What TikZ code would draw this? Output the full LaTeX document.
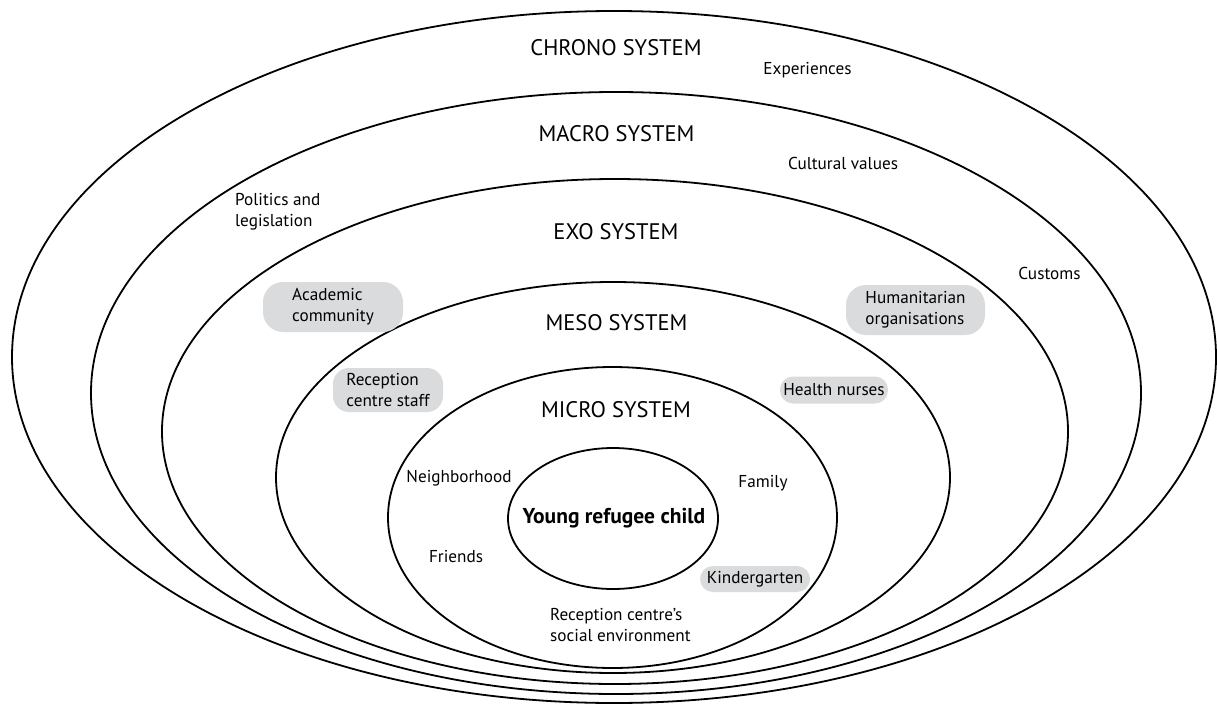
\documentclass[tikz,border=0pt]{standalone}
\usepackage{fontspec}
\setmainfont{PT Sans}
\definecolor{boxgray}{HTML}{D9DBDC}
\begin{document}
\begin{tikzpicture}[x=1pt,y=-1pt,
  ring/.style={draw=black, line width=1.8pt},
  big/.style={font=\fontsize{22.5}{26}\selectfont, inner sep=0pt},
  small/.style={font=\fontsize{17.2}{21}\selectfont, inner sep=0pt, align=left},
  pill/.style={small, fill=boxgray, draw=none, rounded corners=#1},
  pill/.default=13pt
]
\useasboundingbox (0,0) rectangle (1217,706);
% rings
\draw[ring] (614,357) ellipse [x radius=602pt, y radius=346pt];
\draw[ring] (616,393) ellipse [x radius=525pt, y radius=301pt];
\draw[ring] (615,431.5) ellipse [x radius=453pt, y radius=252.5pt];
\draw[ring] (613,477.5) ellipse [x radius=337pt, y radius=195.5pt];
\draw[ring] (612.5,517.5) ellipse [x radius=224.5pt, y radius=150.5pt];
\draw[ring] (613,518.5) ellipse [x radius=105pt, y radius=70.5pt];
% system titles
\node[big] (chrono) at (616,48) {CHRONO SYSTEM};
\node[big] (macro) at (616.5,134) {MACRO SYSTEM};
\node[big] (exo) at (616,232) {EXO SYSTEM};
\node[big] (meso) at (616.5,323) {MESO SYSTEM};
\node[big] (micro) at (616,410) {MICRO SYSTEM};
\node[font=\fontsize{21.5}{24}\selectfont\bfseries, inner sep=0pt] (child) at (614,518) {Young refugee child};
% plain labels
\node[small] (exp) at (807.5,70) {Experiences};
\node[small] (cult) at (843,163) {Cultural values};
\node[small, anchor=west] (pol) at (235,212) {Politics and\\legislation};
\node[small] (cust) at (1049.5,273) {Customs};
\node[small] (neigh) at (459,478) {Neighborhood};
\node[small] (fam) at (763,483) {Family};
\node[small] (friends) at (456,557) {Friends};
\node[small, anchor=west] (rcse) at (550,625) {Reception centre’s\\social environment};
% grey boxes
\node[pill=20pt, minimum width=140pt, minimum height=50pt] (acad) at (333,307) {Academic\\community};
\node[pill=20pt, minimum width=139pt, minimum height=50pt] (hum) at (915.5,310) {Humanitarian\\organisations};
\node[pill=16pt, minimum width=110pt, minimum height=44pt] (rcs) at (388,390) {Reception\\centre staff};
\node[pill, minimum width=108pt, minimum height=27pt] (health) at (834,390) {Health nurses};
\node[pill, minimum width=110pt, minimum height=26pt] (kind) at (755,579) {Kindergarten};
\end{tikzpicture}
\end{document}
